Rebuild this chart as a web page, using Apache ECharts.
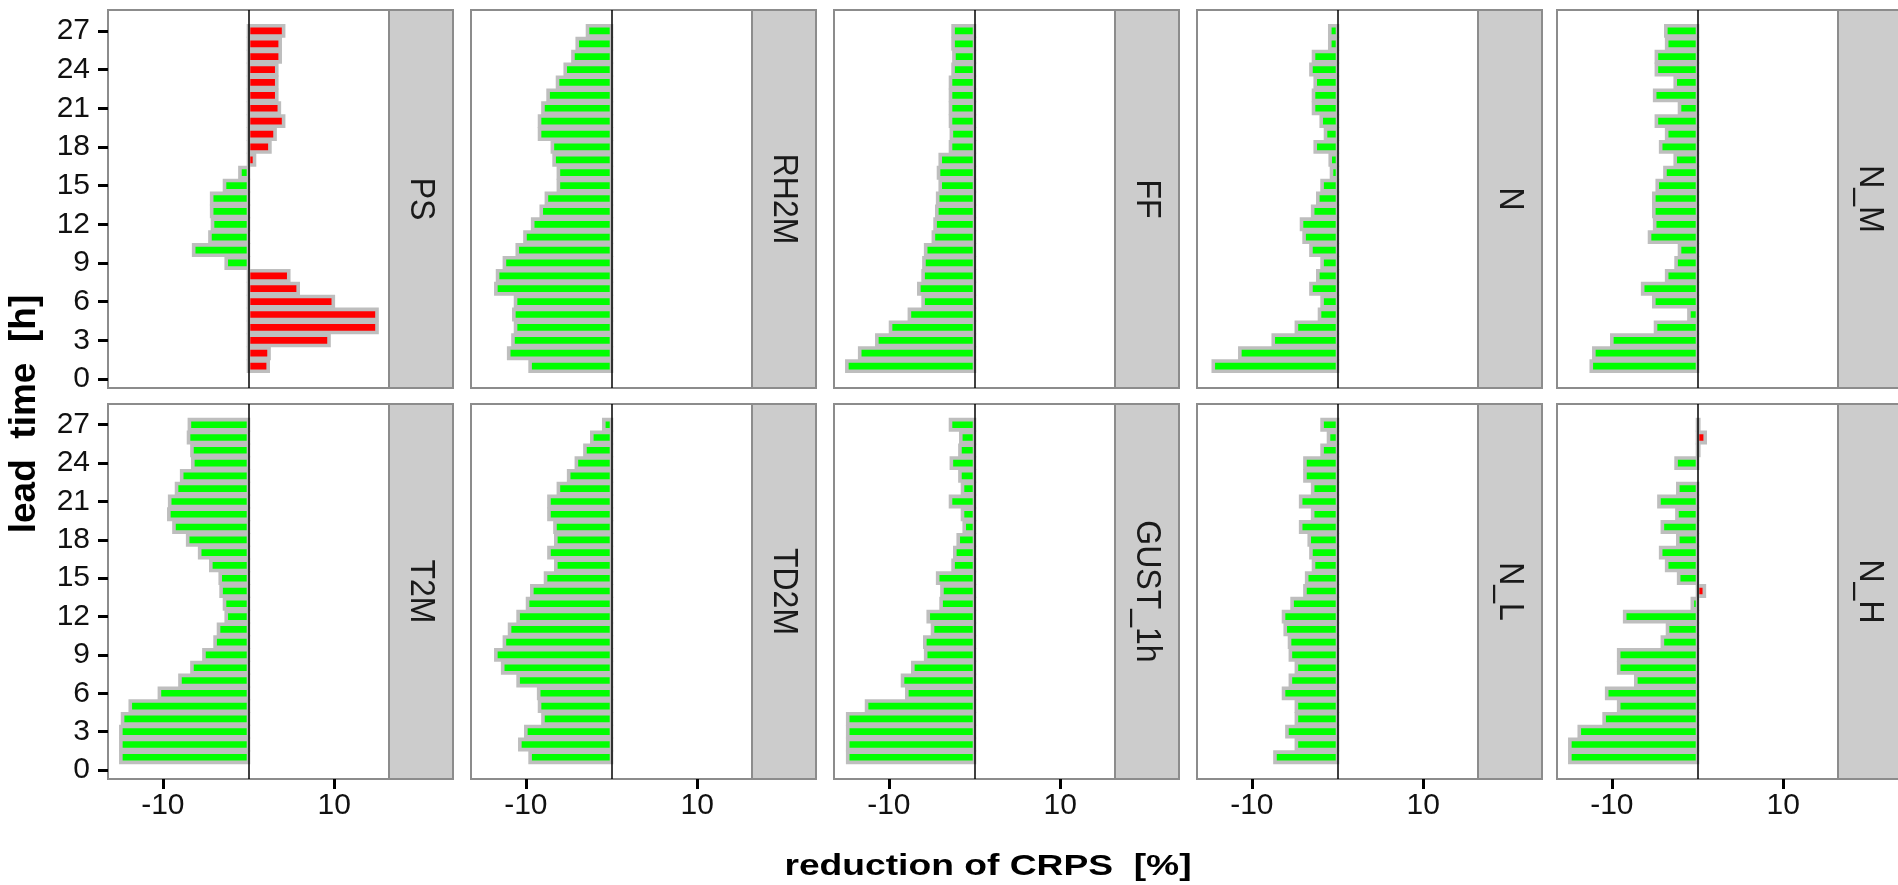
<!DOCTYPE html>
<html style="height: 100%">
<head>
	<meta charset="utf-8">
</head>
<body style="height: 100%; margin: 0; background: #fff">
	<div id="container" style="width: 1898px; height: 885px"></div>
	<script src="https://cdn.jsdelivr.net/npm/echarts@6/dist/echarts.min.js"></script>
	<script type="text/javascript">
		// lead time axis (h)
		var leadTimes = [1, 2, 3, 4, 5, 6, 7, 8, 9, 10, 11, 12, 13, 14, 15, 16, 17, 18, 19, 20, 21, 22, 23, 24, 25, 26, 27];
		var leadTicks = [0, 3, 6, 9, 12, 15, 18, 21, 24, 27];
		var crpsTicks = [-10, 10];

		var variables = ['PS', 'RH2M', 'FF', 'N', 'N_M', 'T2M', 'TD2M', 'GUST_1h', 'N_L', 'N_H'];

		// reduction of CRPS [%], lead time 1..27
		var PS = [2.3, 2.4, 9.4, 15.0, 15.0, 9.9, 5.8, 4.7, -2.6, -6.4, -4.5, -4.2, -4.3, -4.3, -2.8, -1.0, 0.7, 2.5, 3.1, 4.1, 3.6, 3.3, 3.3, 3.3, 3.7, 3.7, 4.1];
		var RH2M = [-9.5, -12.0, -11.5, -11.2, -11.4, -11.2, -13.5, -13.3, -12.5, -11.0, -10.1, -9.2, -8.2, -7.6, -6.2, -6.2, -6.7, -6.9, -8.4, -8.4, -8.0, -7.4, -6.3, -5.4, -4.5, -4.0, -2.8];
		var FF = [-14.9, -13.4, -11.4, -9.8, -7.6, -6.0, -6.5, -6.0, -5.9, -5.7, -4.8, -4.6, -4.4, -4.3, -4.0, -4.2, -4.0, -2.8, -2.7, -2.8, -2.8, -2.8, -2.8, -2.5, -2.4, -2.5, -2.5];
		var N = [-14.5, -11.4, -7.5, -4.8, -2.1, -1.8, -3.1, -2.3, -1.8, -3.1, -3.9, -4.2, -2.9, -2.3, -1.8, -0.7, -0.85, -2.6, -1.4, -1.9, -2.8, -2.8, -2.6, -3.1, -2.8, -0.9, -0.9];
		var N_M = [-12.4, -12.1, -10.0, -4.9, -1.0, -5.1, -6.4, -3.6, -2.5, -2.1, -5.6, -5.0, -5.1, -5.1, -4.7, -3.8, -2.6, -4.3, -3.6, -4.8, -2.1, -5.0, -2.6, -4.8, -4.8, -3.6, -3.7];
		var T2M = [-14.9, -14.9, -14.9, -14.7, -13.8, -10.4, -8.0, -6.6, -5.2, -3.9, -3.5, -2.6, -2.8, -3.2, -3.3, -4.4, -5.7, -7.1, -8.7, -9.3, -9.2, -8.4, -7.8, -6.5, -6.6, -7.0, -6.9];
		var TD2M = [-9.5, -10.7, -10.0, -8.0, -8.4, -8.5, -10.9, -12.7, -13.5, -12.5, -11.9, -10.9, -9.8, -9.3, -7.7, -6.5, -7.3, -6.5, -6.6, -7.3, -7.3, -6.2, -5.0, -4.1, -3.1, -2.3, -0.9];
		var GUST_1h = [-14.8, -14.8, -14.8, -14.8, -12.6, -7.9, -8.4, -7.2, -5.7, -5.8, -4.9, -5.4, -3.9, -3.8, -4.3, -2.5, -2.3, -1.9, -1.2, -1.4, -2.8, -1.4, -1.7, -2.7, -1.7, -1.6, -2.8];
		var N_L = [-7.3, -4.8, -5.9, -4.8, -4.8, -6.3, -5.5, -4.8, -5.5, -5.6, -6.1, -6.3, -5.3, -3.8, -3.6, -2.8, -3.1, -3.3, -4.3, -2.9, -4.3, -2.9, -3.8, -3.8, -1.8, -1.05, -1.8];
		var N_H = [-14.9, -14.9, -13.8, -10.9, -9.2, -10.6, -7.2, -9.2, -9.2, -4.1, -3.5, -8.5, -0.6, 0.8, -2.2, -3.6, -4.3, -2.3, -4.1, -2.4, -4.5, -2.3, null, -2.5, 0.15, 0.9, 0.15];

		var panelValues = [PS, RH2M, FF, N, N_M, T2M, TD2M, GUST_1h, N_L, N_H];

		// panel layout (px)
		var colLeft = [108, 471, 834, 1197, 1557];
		var rowTop = [10, 404];
		var rowHeight = [378, 375];
		var plotWidth = 281;
		var stripWidth = 64;
		var fontFamily = "'Liberation Sans', Arial, sans-serif";

		var myChart = echarts.init(document.getElementById('container'));

		// horizontal bar from 0 to value, red when positive, green when negative
		function renderBar(params, api) {
			var v = api.value(0);
			var t = api.value(1);
			if (v == null || isNaN(v)) return;
			var p0 = api.coord([0, t]);
			var p1 = api.coord([v, t]);
			var h = api.size([0, 1])[1] * 0.8;
			return {
				type: 'rect',
				shape: {
					x: Math.min(p0[0], p1[0]),
					y: p0[1] - h / 2,
					width: Math.abs(p1[0] - p0[0]),
					height: h
				},
				style: {
					fill: v > 0 ? '#ff0000' : '#00ff00',
					stroke: '#bebebe',
					lineWidth: 3.6
				}
			};
		}

		function buildOption() {
			var grids = [], xAxes = [], yAxes = [], series = [], graphics = [];

			variables.forEach(function (name, i) {
				var row = Math.floor(i / 5), col = i % 5;
				var pLeft = colLeft[col], pTop = rowTop[row], pHeight = rowHeight[row];
				var firstCol = col === 0, bottomRow = row === 1;
				var vals = panelValues[i];

				grids.push({
					left: pLeft, top: pTop, width: plotWidth, height: pHeight,
					show: true, backgroundColor: '#fff',
					borderColor: '#8c8c8c', borderWidth: 2
				});

				xAxes.push({
					type: 'value', gridIndex: i, min: -16.4, max: 16.4,
					axisLine: {show: false, onZero: false},
					splitLine: {show: false},
					axisTick: {
						show: bottomRow, customValues: crpsTicks, length: 10,
						lineStyle: {color: '#000', width: 3}
					},
					axisLabel: {
						show: bottomRow, customValues: crpsTicks, margin: 12,
						color: '#111', fontSize: 30, fontFamily: fontFamily
					}
				});

				yAxes.push({
					type: 'value', gridIndex: i, min: -0.7, max: 28.62,
					axisLine: {show: false, onZero: false},
					splitLine: {show: false},
					axisTick: {
						show: firstCol, customValues: leadTicks, length: 10,
						lineStyle: {color: '#000', width: 3}
					},
					axisLabel: {
						show: firstCol, customValues: leadTicks, margin: 18,
						color: '#111', fontSize: 30, fontFamily: fontFamily
					}
				});

				series.push({
					name: name,
					type: 'custom',
					xAxisIndex: i, yAxisIndex: i,
					renderItem: renderBar,
					encode: {x: 0, y: 1},
					data: leadTimes.map(function (t, k) { return [vals[k], t]; }),
					markLine: {
						silent: true, symbol: 'none',
						label: {show: false},
						lineStyle: {color: '#000', width: 1.5, type: 'solid'},
						data: [{xAxis: 0}]
					}
				});

				// strip with the variable name
				graphics.push({
					type: 'rect',
					shape: {x: pLeft + plotWidth, y: pTop, width: stripWidth, height: pHeight},
					style: {fill: '#cccccc', stroke: '#8c8c8c', lineWidth: 2}
				});
				graphics.push({
					type: 'text',
					x: pLeft + plotWidth + stripWidth / 2, y: pTop + pHeight / 2,
					rotation: -Math.PI / 2, scaleY: 1.12,
					style: {
						text: name, fill: '#1a1a1a', fontSize: 32, fontFamily: fontFamily,
						align: 'center', verticalAlign: 'middle'
					}
				});
			});

			// axis titles
			graphics.push({
				type: 'text', x: 25, y: 414, rotation: Math.PI / 2,
				style: {
					text: 'lead  time  [h]', fill: '#000', fontSize: 37, fontWeight: 'bold',
					fontFamily: fontFamily, align: 'center', verticalAlign: 'middle'
				}
			});
			graphics.push({
				type: 'text', x: 988, y: 867, scaleX: 1.24,
				style: {
					text: 'reduction of CRPS  [%]', fill: '#000', fontSize: 30, fontWeight: 'bold',
					fontFamily: fontFamily, align: 'center', verticalAlign: 'middle'
				}
			});

			return {
				backgroundColor: '#fff',
				animation: false,
				grid: grids,
				xAxis: xAxes,
				yAxis: yAxes,
				series: series,
				graphic: graphics
			};
		}

		myChart.setOption(buildOption());
	</script>
</body>
</html>
